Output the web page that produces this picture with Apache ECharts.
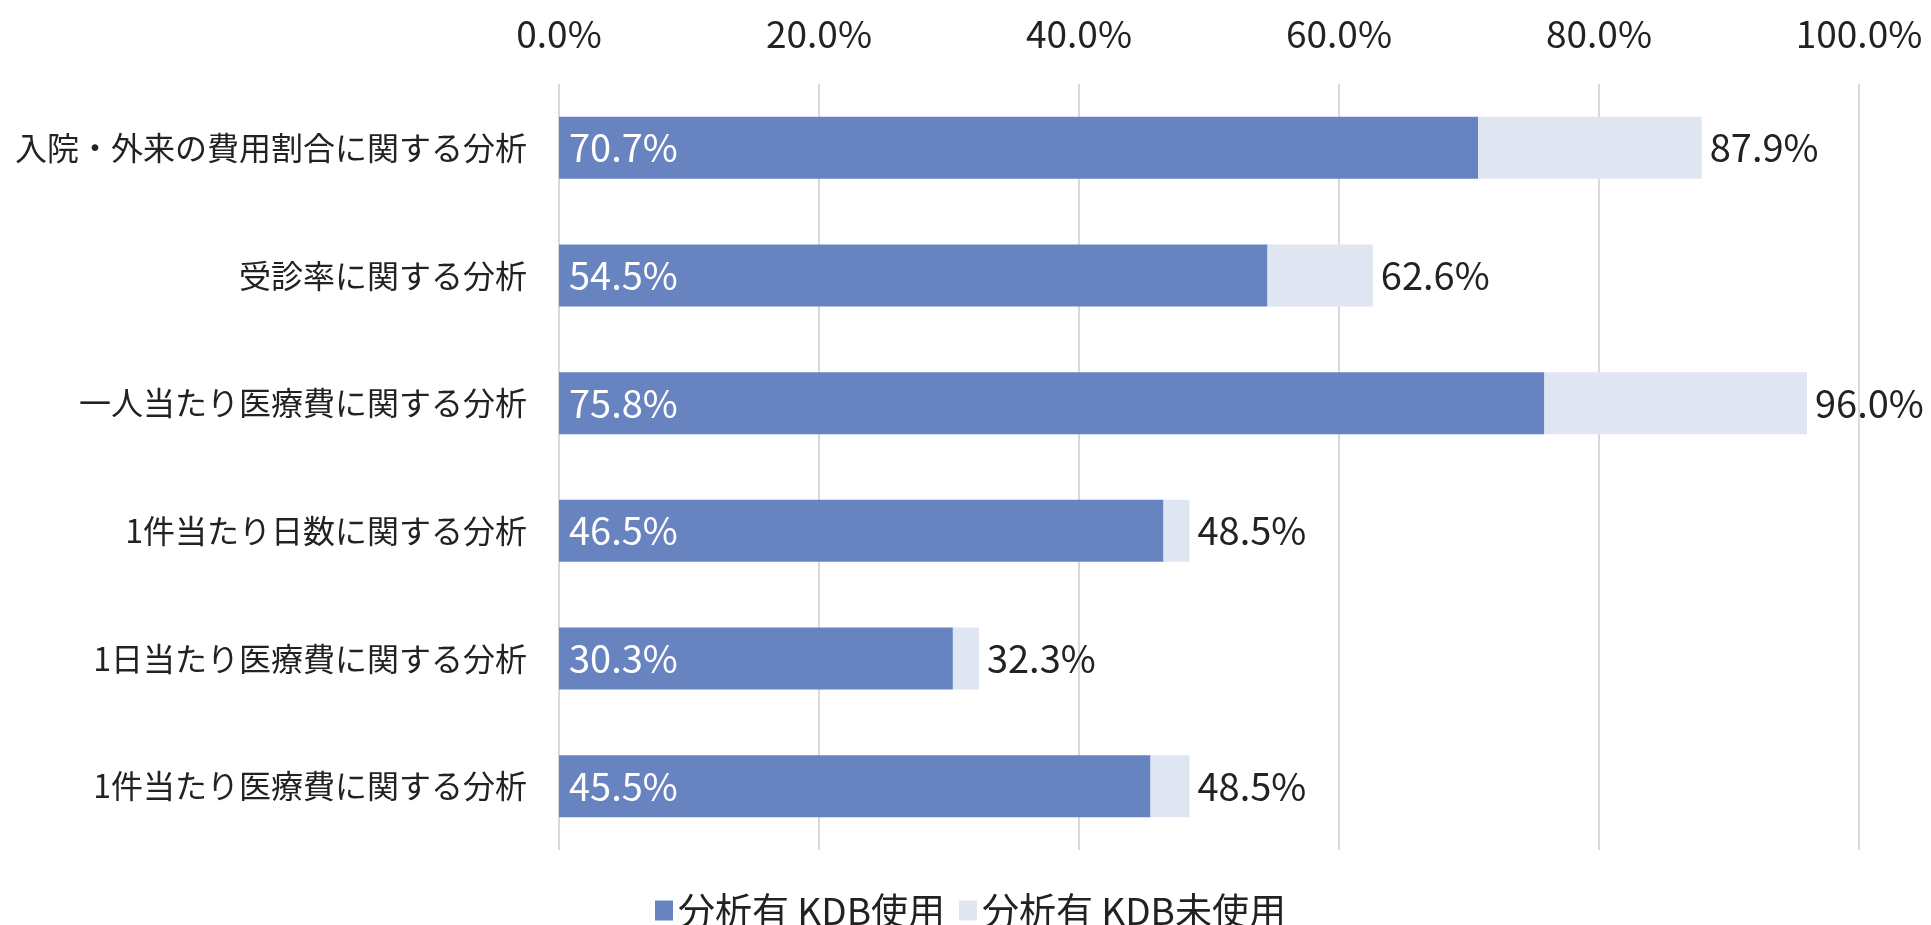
<!DOCTYPE html>
<html lang="ja">
<head>
<meta charset="utf-8">
<title>KDB analysis</title>
<script src="https://cdn.jsdelivr.net/npm/echarts@6/dist/echarts.min.js"></script>
<style>
  html, body { margin: 0; padding: 0; background: #fff; }
  #chart { width: 1931px; height: 925px; }
</style>
</head>
<body>
<div id="chart"></div>
<script>
// categories, top to bottom
const categories = [
  '入院・外来の費用割合に関する分析',
  '受診率に関する分析',
  '一人当たり医療費に関する分析',
  '1件当たり日数に関する分析',
  '1日当たり医療費に関する分析',
  '1件当たり医療費に関する分析'
];
// 分析有 KDB使用
const kdbUsed = [70.7, 54.5, 75.8, 46.5, 30.3, 45.5];
// 分析有 KDB未使用 (the light part of each bar)
const kdbNotUsed = [17.2, 8.1, 20.2, 2.0, 2.0, 3.0];
// total shown at the end of each bar
const totals = [87.9, 62.6, 96.0, 48.5, 32.3, 48.5];
const xTicks = [0, 20, 40, 60, 80, 100];

const FONT = '"Noto Sans CJK JP", "Noto Sans", sans-serif';

const chart = echarts.init(document.getElementById('chart'));

const option = {
  backgroundColor: '#ffffff',
  animation: false,
  grid: {
    left: 559,
    right: 72,
    top: 84,
    bottom: 75,
    containLabel: false
  },
  legend: {
    data: ['分析有 KDB使用', '分析有 KDB未使用'],
    left: 650,
    top: 887,
    itemWidth: 18,
    itemHeight: 20,
    itemGap: 14,
    icon: 'rect',
    textStyle: {
      fontFamily: FONT,
      fontSize: 37,
      color: '#222'
    }
  },
  xAxis: {
    type: 'value',
    position: 'top',
    min: xTicks[0],
    max: xTicks[xTicks.length - 1],
    interval: 20,
    axisLine: { show: false },
    axisTick: { show: false },
    axisLabel: {
      margin: 32,
      fontFamily: FONT,
      fontSize: 37,
      color: '#222',
      formatter: (v) => v.toFixed(1) + '%'
    },
    splitLine: {
      lineStyle: { color: '#d9d9d9', width: 2 }
    }
  },
  yAxis: {
    type: 'category',
    data: categories,
    inverse: true,
    axisLine: { show: false },
    axisTick: { show: false },
    axisLabel: {
      margin: 32,
      fontFamily: FONT,
      fontSize: 32,
      color: '#222'
    }
  },
  series: [
    {
      name: '分析有 KDB使用',
      type: 'bar',
      stack: 'total',
      barWidth: 62,
      data: kdbUsed,
      itemStyle: { color: '#6783c0' },
      label: {
        show: true,
        position: 'insideLeft',
        distance: 10,
        fontFamily: FONT,
        fontSize: 38,
        color: '#ffffff',
        formatter: (p) => p.value.toFixed(1) + '%'
      }
    },
    {
      name: '分析有 KDB未使用',
      type: 'bar',
      stack: 'total',
      barWidth: 62,
      data: kdbNotUsed,
      itemStyle: { color: '#dfe6f2' },
      label: {
        show: true,
        position: 'right',
        distance: 8,
        fontFamily: FONT,
        fontSize: 38,
        color: '#222',
        formatter: (p) => totals[p.dataIndex].toFixed(1) + '%'
      }
    }
  ]
};

chart.setOption(option);
</script>
</body>
</html>
